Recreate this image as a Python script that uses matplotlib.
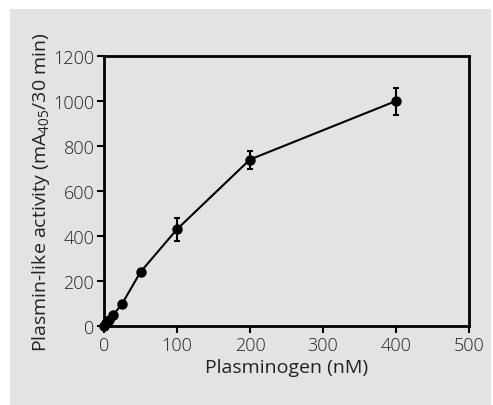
import matplotlib
matplotlib.use("Agg")
import matplotlib.pyplot as plt
from matplotlib.patches import Rectangle

# plasminogen concentration (nM) and activity (mA405/30 min)
plasminogen = [0, 3.125, 6.25, 12.5, 25, 50, 100, 200, 400]
activity = [0, 12, 25, 48, 100, 240, 430, 740, 1000]
errors = [0, 0, 0, 0, 8, 15, 50, 40, 60]

x_ticks = [0, 100, 200, 300, 400, 500]
y_ticks = [0, 200, 400, 600, 800, 1000, 1200]

plt.rcParams["font.family"] = ["Open Sans", "DejaVu Sans"]
plt.rcParams["font.weight"] = "light"
plt.rcParams["mathtext.default"] = "regular"

bg = "#e3e3e3"

fig = plt.figure(figsize=(4.93, 4.06), dpi=100)
fig.patch.set_facecolor("white")
fig.patches.append(Rectangle((10 / 493, 0), 481 / 493, 396 / 406,
                             transform=fig.transFigure, facecolor=bg,
                             edgecolor="none", zorder=-10))

ax = fig.add_axes([104 / 493, 79 / 406, 365 / 493, 270 / 406])
ax.set_facecolor(bg)

ax.errorbar(plasminogen, activity, yerr=errors, color="black",
            marker="o", markersize=6.5, linewidth=1.5,
            elinewidth=1.5, capsize=2.5, capthick=1.5, clip_on=False, zorder=3)

ax.set_xlim(0, 500)
ax.set_ylim(0, 1200)
ax.set_xticks(x_ticks)
ax.set_yticks(y_ticks)

for s in ax.spines.values():
    s.set_linewidth(2)

ax.tick_params(direction="out", length=5, width=1.5, labelsize=13,
               colors="black", labelcolor="#222222", pad=2)

ax.set_xlabel("Plasminogen (nM)", fontsize=14, color="#222222", labelpad=3)
ax.set_ylabel("Plasmin-like activity (mA$_{405}$/30 min)", fontsize=14,
              color="#222222", labelpad=1)

plt.savefig("out.png", dpi=100, facecolor=fig.get_facecolor())
plt.close()
